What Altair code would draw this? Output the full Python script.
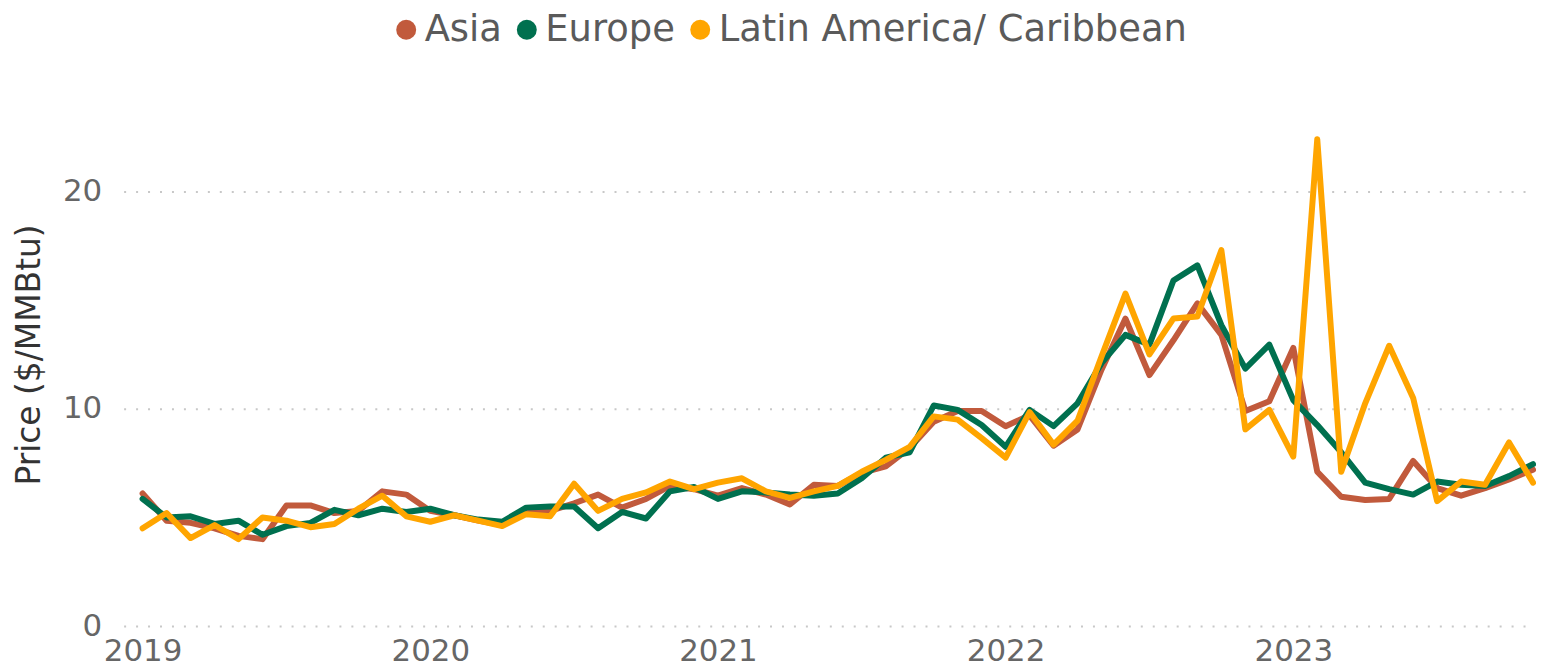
import altair as alt
import pandas as pd

# Monthly, Jan 2019 - Nov 2023
months = pd.date_range("2019-01-01", "2023-11-01", freq="MS")

regions = ["Asia", "Europe", "Latin America/ Caribbean"]
colors = ["#C15A3C", "#00704F", "#FFA500"]

asia = [6.1, 4.85, 4.75, 4.5, 4.15, 4.0, 5.55, 5.55, 5.2, 5.3, 6.2, 6.05,
        5.3, 5.1, 4.85, 4.65, 5.2, 5.3, 5.65, 6.05, 5.45, 5.85, 6.45, 6.3,
        6.0, 6.35, 6.05, 5.6, 6.5, 6.45, 7.05, 7.35, 8.2, 9.4, 9.9, 9.9,
        9.2, 9.7, 8.3, 9.05, 11.8, 14.15, 11.55, 13.15, 14.85, 13.4, 9.9, 10.35,
        12.8, 7.1, 5.95, 5.8, 5.85, 7.6, 6.35, 6.0, 6.35, 6.75, 7.2]

europe = [5.85, 5.0, 5.05, 4.7, 4.85, 4.2, 4.6, 4.75, 5.35, 5.1, 5.4, 5.25,
          5.4, 5.1, 4.9, 4.8, 5.45, 5.5, 5.5, 4.5, 5.25, 4.95, 6.2, 6.4,
          5.85, 6.2, 6.15, 6.05, 6.0, 6.1, 6.8, 7.75, 8.0, 10.15, 9.95, 9.25,
          8.25, 9.95, 9.2, 10.25, 12.1, 13.4, 12.95, 15.9, 16.6, 13.85, 11.85, 12.95,
          10.4, 9.25, 8.0, 6.6, 6.3, 6.05, 6.65, 6.5, 6.45, 6.9, 7.45]

latam = [4.5, 5.2, 4.05, 4.65, 4.0, 5.0, 4.85, 4.55, 4.7, 5.4, 6.0, 5.05,
         4.8, 5.1, 4.85, 4.6, 5.15, 5.05, 6.55, 5.3, 5.85, 6.15, 6.65, 6.3,
         6.6, 6.8, 6.2, 5.9, 6.2, 6.45, 7.1, 7.65, 8.25, 9.65, 9.5, 8.65,
         7.75, 9.85, 8.35, 9.45, 12.4, 15.3, 12.5, 14.15, 14.25, 17.3, 9.05, 9.95,
         7.8, 22.4, 7.1, 10.25, 12.9, 10.5, 5.75, 6.65, 6.5, 8.45, 6.6]

year_ticks = [2019, 2020, 2021, 2022, 2023]
y_ticks = [0, 10, 20]

rows = []
for name, vals in zip(regions, [asia, europe, latam]):
    for d, v in zip(months, vals):
        rows.append({"t": d.year + (d.month - 1) / 12, "region": name, "price": v})
df = pd.DataFrame(rows)

x_enc = alt.X("t:Q",
              scale=alt.Scale(domain=[2018.934, 2023 + 10 / 12], nice=False, zero=False),
              axis=alt.Axis(values=year_ticks, format="d", grid=False, domain=False,
                            ticks=False, labelFontSize=31, labelColor="#666666",
                            labelPadding=11, title=None, labelFlush=False))
y_enc = alt.Y("price:Q",
              scale=alt.Scale(domain=[0, 25], nice=False),
              axis=alt.Axis(values=y_ticks, grid=True, gridDash=[2, 10],
                            gridColor="#c8c8c8", gridWidth=2, domain=False, ticks=False,
                            labelFontSize=31, labelColor="#666666", labelPadding=22,
                            title="Price ($/MMBtu)", titleFontSize=33,
                            titleColor="#333333", titleFontWeight="normal",
                            titlePadding=16))
color_scale = alt.Scale(domain=regions, range=colors)

# invisible points: carry the legend (filled circles)
legend_pts = alt.Chart(df).mark_point(filled=True, size=0, opacity=0).encode(
    x=x_enc, y=y_enc,
    color=alt.Color("region:N", scale=color_scale,
                    legend=alt.Legend(orient="none", legendX=265, legendY=-72,
                                      direction="horizontal", title=None,
                                      symbolType="circle", symbolSize=400,
                                      symbolOpacity=1, symbolStrokeWidth=0,
                                      labelFontSize=37, labelColor="#5a5a5a",
                                      labelOffset=0, labelLimit=0,
                                      columnPadding=6)),
)

lines = alt.Chart(df).mark_line(
    strokeWidth=6, strokeCap="round", strokeJoin="round"
).encode(
    x=x_enc, y=y_enc,
    color=alt.Color("region:N", scale=color_scale, legend=None),
)

chart = alt.layer(legend_pts, lines).properties(
    width=1414, height=545,
    padding={"left": 5, "top": 2, "right": 0, "bottom": 0},
).configure(
    font="DejaVu Sans"
).configure_view(stroke=None)

chart.save("out.html", embed_options={"renderer": "svg", "actions": False})
